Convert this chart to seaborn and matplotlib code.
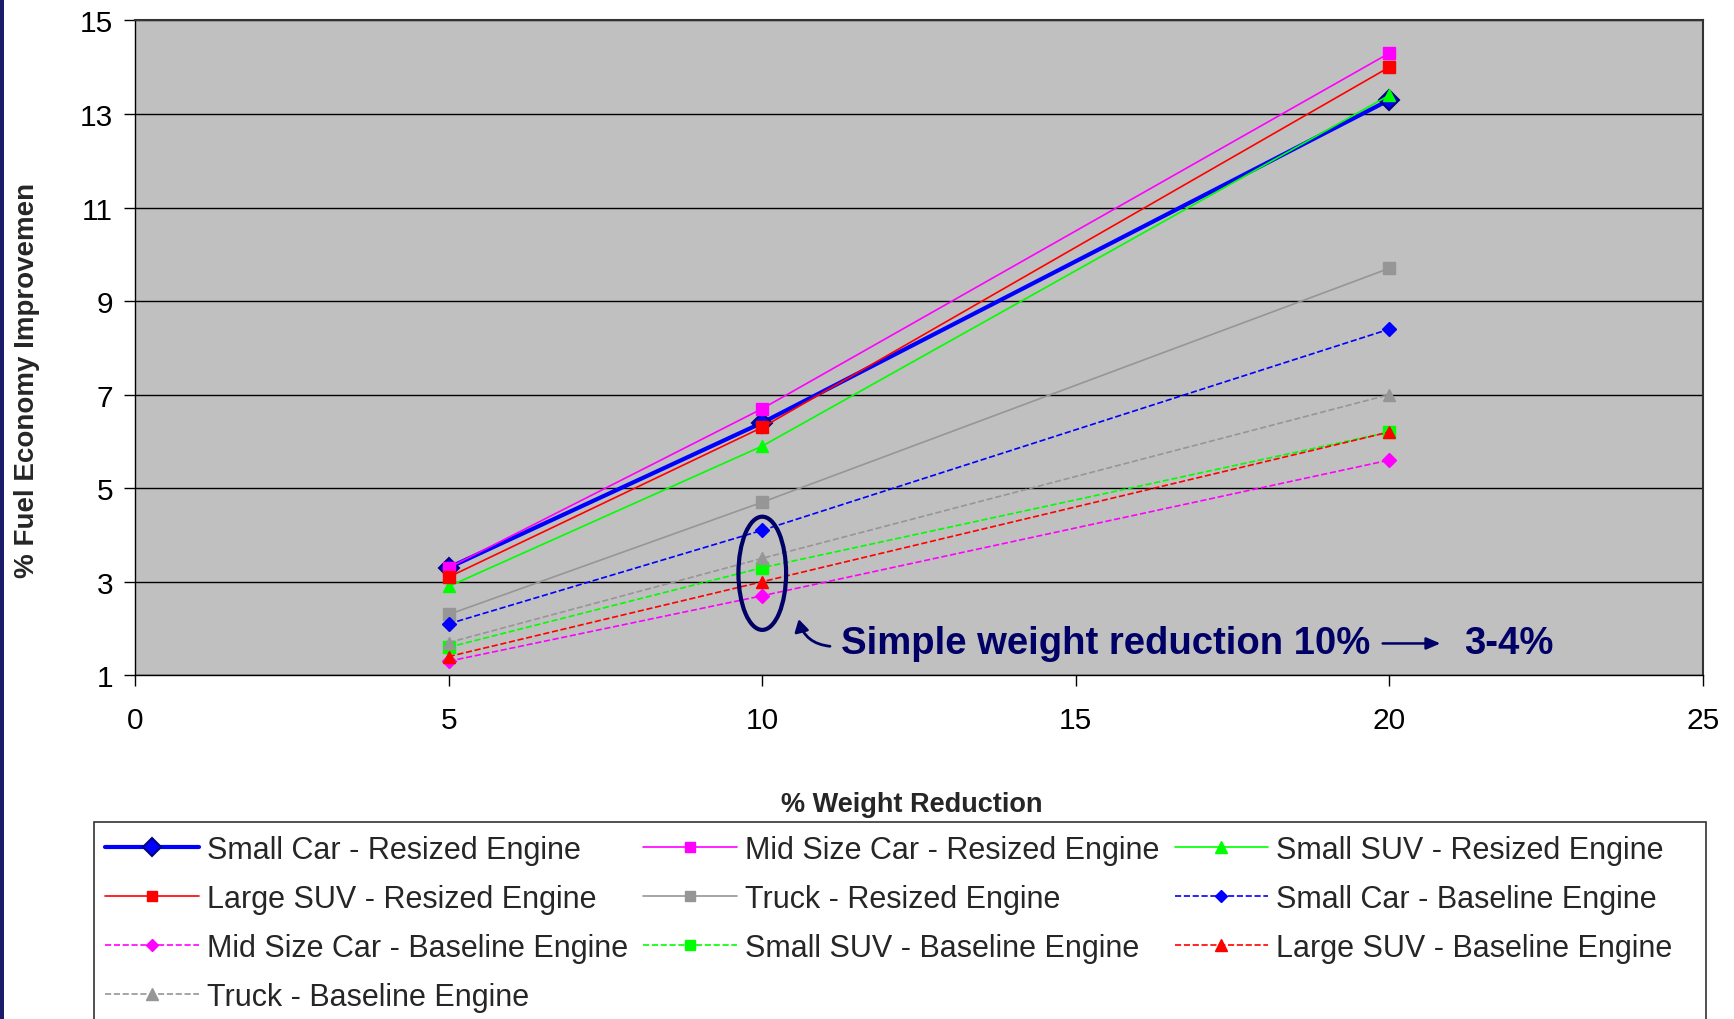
import matplotlib
matplotlib.use("Agg")
import matplotlib.pyplot as plt
from matplotlib.patches import Ellipse, Rectangle
import seaborn as sns

# % weight reduction steps
weight_reduction = [5, 10, 20]

# % fuel economy improvement per vehicle / engine strategy
small_car_resized = [3.3, 6.4, 13.3]
mid_car_resized = [3.3, 6.7, 14.3]
small_suv_resized = [2.9, 5.9, 13.4]
large_suv_resized = [3.1, 6.3, 14.0]
truck_resized = [2.3, 4.7, 9.7]
small_car_baseline = [2.1, 4.1, 8.4]
mid_car_baseline = [1.3, 2.7, 5.6]
small_suv_baseline = [1.6, 3.3, 6.2]
large_suv_baseline = [1.4, 3.0, 6.2]
truck_baseline = [1.7, 3.5, 7.0]

series_names = [
    "Small Car - Resized Engine",
    "Mid Size Car - Resized Engine",
    "Small SUV - Resized Engine",
    "Large SUV - Resized Engine",
    "Truck - Resized Engine",
    "Small Car - Baseline Engine",
    "Mid Size Car - Baseline Engine",
    "Small SUV - Baseline Engine",
    "Large SUV - Baseline Engine",
    "Truck - Baseline Engine",
]
series_values = [
    small_car_resized, mid_car_resized, small_suv_resized, large_suv_resized,
    truck_resized, small_car_baseline, mid_car_baseline, small_suv_baseline,
    large_suv_baseline, truck_baseline,
]

x_ticks = [0, 5, 10, 15, 20, 25]
y_ticks = [1, 3, 5, 7, 9, 11, 13, 15]

BLUE, MAGENTA, GREEN, RED, GRAY = "#0000FF", "#FF00FF", "#00FF00", "#FF0000", "#969696"
styles = [
    dict(color=BLUE, marker="D", ls="-", lw=3.0, ms=10, mec="#000080", mew=1.5),
    dict(color=MAGENTA, marker="s", ls="-", lw=1.2, ms=8),
    dict(color=GREEN, marker="^", ls="-", lw=1.2, ms=9),
    dict(color=RED, marker="s", ls="-", lw=1.2, ms=8),
    dict(color=GRAY, marker="s", ls="-", lw=1.2, ms=8),
    dict(color=BLUE, marker="D", ls="--", lw=1.2, ms=7),
    dict(color=MAGENTA, marker="D", ls="--", lw=1.2, ms=7),
    dict(color=GREEN, marker="s", ls="--", lw=1.2, ms=8),
    dict(color=RED, marker="^", ls="--", lw=1.2, ms=9),
    dict(color=GRAY, marker="^", ls="--", lw=1.2, ms=9),
]

sns.set_theme(style="white")
plt.rcParams["font.family"] = ["Liberation Sans", "DejaVu Sans"]

fig = plt.figure(figsize=(17.34, 10.2), dpi=100)
fig.patch.set_facecolor("white")
ax = fig.add_axes([0.078, 0.337, 0.904, 0.642])
ax.set_facecolor("#C0C0C0")

for name, vals, st in zip(series_names, series_values, styles):
    kw = dict(color=st["color"], marker=st["marker"], linestyle=st["ls"],
              linewidth=st["lw"], markersize=st["ms"],
              markeredgecolor=st.get("mec", st["color"]),
              markeredgewidth=st.get("mew", 1.0), label=name)
    if st["ls"] == "--":
        kw["dashes"] = (5, 4)
    sns.lineplot(x=weight_reduction, y=vals, ax=ax, **kw)

ax.set_xlim(0, 25)
ax.set_ylim(1, 15)
ax.set_xticks(x_ticks)
ax.set_yticks(y_ticks)
ax.tick_params(axis="both", labelsize=21.5, colors="black", direction="out",
               length=8, width=1, left=True, bottom=True)
ax.tick_params(axis="x", pad=14)
ax.tick_params(axis="y", pad=8)
ax.yaxis.grid(True, color="black", linewidth=1.0)
ax.xaxis.grid(False)
ax.set_axisbelow(True)
for side in ["left", "bottom"]:
    ax.spines[side].set_color("black")
    ax.spines[side].set_linewidth(1.0)
for side in ["top", "right"]:
    ax.spines[side].set_color("#333333")
    ax.spines[side].set_linewidth(1.5)
ax.set_xlabel("")
ax.set_ylabel("")

# highlight of the 10% reduction points
navy = "#000066"
ax.add_patch(Ellipse((10, 3.18), width=0.76, height=2.42, fill=False,
                     edgecolor=navy, linewidth=3, zorder=5))
ax.annotate("", xy=(10.58, 2.2), xytext=(11.08, 1.62),
            arrowprops=dict(arrowstyle="-|>,head_length=0.6,head_width=0.35",
                            color=navy, lw=2.0, shrinkA=0, shrinkB=0,
                            connectionstyle="arc3,rad=-0.35"))
ax.text(11.25, 1.68, "Simple weight reduction 10%", color=navy,
        fontsize=27.5, fontweight="bold", va="center", ha="left")
ax.annotate("", xy=(20.86, 1.68), xytext=(19.85, 1.68),
            arrowprops=dict(arrowstyle="-|>,head_length=0.7,head_width=0.3",
                            color=navy, lw=1.8))
ax.text(21.2, 1.68, "3-4%", color=navy, fontsize=27.5, fontweight="bold",
        va="center", ha="left")

fig.text(0.526, 0.211, "% Weight Reduction", fontsize=19.5, fontweight="bold",
         ha="center", va="center")
fig.text(0.0155, 0.627, "% Fuel Economy Improvemen", fontsize=20,
         fontweight="bold", ha="center", va="center", rotation=90)

# legend frame, running past the bottom edge of the canvas
fig.patches.append(Rectangle((94 / 1734, -0.05), (1706 - 94) / 1734,
                             0.05 + 1 - 823 / 1020, transform=fig.transFigure,
                             facecolor="white", edgecolor="#333333",
                             linewidth=1.2, zorder=0))

# legend entries laid out row by row in three columns
handles, labels = ax.get_legend_handles_labels()
if ax.get_legend() is not None:
    ax.get_legend().remove()
order = [0, 3, 6, 9, 1, 4, 7, 2, 5, 8]
leg = fig.legend([handles[i] for i in order], [labels[i] for i in order],
                 ncol=3, loc="upper left",
                 bbox_to_anchor=(105 / 1734, 1 - 836 / 1020),
                 fontsize=22, frameon=False, borderaxespad=0, borderpad=0,
                 handlelength=3.07, handletextpad=0.26, labelspacing=0.62,
                 columnspacing=0.5, numpoints=1, markerscale=0.9)

# dark stripe along the left edge of the canvas
fig.patches.append(Rectangle((0, 0), 4 / 1734, 1, transform=fig.transFigure,
                             facecolor="#1B1B6B", edgecolor="none"))

fig.savefig("out.png", dpi=100)
